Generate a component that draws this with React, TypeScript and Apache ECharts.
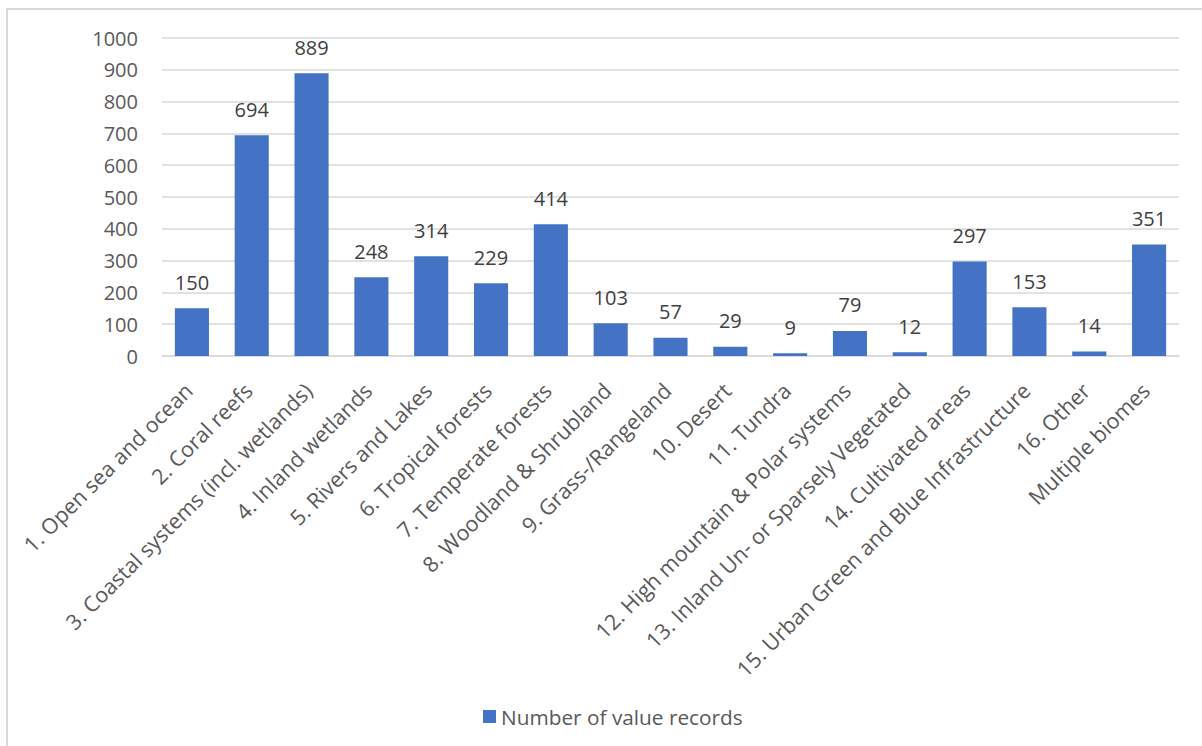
import React, { useEffect, useRef } from "react";
import * as echarts from "echarts";

const categories = [
  "1. Open sea and ocean",
  "2. Coral reefs",
  "3. Coastal systems (incl. wetlands)",
  "4. Inland wetlands",
  "5. Rivers and Lakes",
  "6. Tropical forests",
  "7. Temperate forests",
  "8. Woodland & Shrubland",
  "9. Grass-/Rangeland",
  "10. Desert",
  "11. Tundra",
  "12. High mountain & Polar systems",
  "13. Inland Un- or Sparsely Vegetated",
  "14. Cultivated areas",
  "15. Urban Green and Blue Infrastructure",
  "16. Other",
  "Multiple biomes",
];

const valueRecords = [150, 694, 889, 248, 314, 229, 414, 103, 57, 29, 9, 79, 12, 297, 153, 14, 351];

const seriesName = "Number of value records";

export default function App() {
  const ref = useRef<HTMLDivElement>(null);
  useEffect(() => {
    if (!ref.current) return;
    const chart = echarts.init(ref.current, null, { renderer: "svg" });
    const font = "'Open Sans', sans-serif";
    chart.setOption({
      animation: false,
      backgroundColor: "#ffffff",
      textStyle: { fontFamily: font },
      graphic: [
        {
          type: "rect",
          shape: { x: 7, y: 9, width: 1300, height: 800 },
          style: { fill: "none", stroke: "#d9d9d9", lineWidth: 2 },
          silent: true,
        },
      ],
      grid: { left: 162, right: 23, top: 38, bottom: 390, containLabel: false },
      legend: {
        bottom: 19,
        left: 483,
        padding: 0,
        itemWidth: 13,
        itemHeight: 13,
        icon: "rect",
        itemGap: 6,
        textStyle: { color: "#595959", fontSize: 20.8, fontFamily: font },
        data: [seriesName],
      },
      xAxis: {
        type: "category",
        data: categories,
        axisLine: { show: true, lineStyle: { color: "#d9d9d9", width: 1.5 } },
        axisTick: { show: false },
        axisLabel: {
          interval: 0,
          rotate: 45,
          margin: 27,
          padding: [0, 5, 0, 0],
          color: "#595959",
          fontSize: 21.5,
          fontFamily: font,
        },
      },
      yAxis: {
        type: "value",
        min: 0,
        max: 1000,
        interval: 100,
        axisLine: { show: false },
        axisTick: { show: false },
        splitLine: { lineStyle: { color: "#d9d9d9", width: 1.5 } },
        axisLabel: {
          color: "#595959",
          fontSize: 20,
          margin: 24,
          fontFamily: font,
          formatter: (v: number) => String(v),
        },
      },
      series: [
        {
          name: seriesName,
          type: "bar",
          data: valueRecords,
          barCategoryGap: "43%",
          itemStyle: { color: "#4472C4" },
          label: {
            show: true,
            position: "top",
            distance: 16,
            color: "#404040",
            fontSize: 20,
            fontFamily: font,
          },
        },
      ],
    });
    return () => chart.dispose();
  }, []);
  return (
    <div
      ref={ref}
      style={{ position: "fixed", left: 0, top: 0, width: 1202, height: 746, background: "#fff" }}
    />
  );
}
